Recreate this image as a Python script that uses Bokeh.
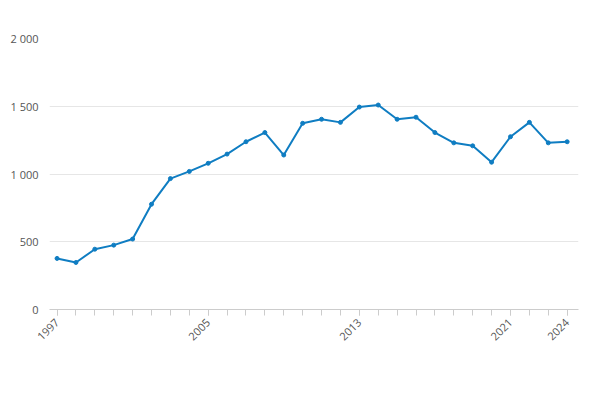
from bokeh.plotting import figure
from bokeh.embed import file_html
from bokeh.resources import INLINE
from bokeh.models import FixedTicker, Legend, LegendItem, Label, CustomJSTickFormatter
import math

years = list(range(1997, 2025))
values = [377, 347, 445, 475, 520, 777, 966, 1019, 1079, 1147, 1238, 1306, 1140, 1374,
          1404, 1381, 1494, 1509, 1404, 1419, 1306, 1230, 1208, 1087, 1275, 1381, 1230, 1238]
x_ticks = [1997, 2005, 2013, 2021, 2024]
y_ticks = [0, 500, 1000, 1500, 2000]
title = "Environmental taxes: pollution/resources taxes (£million)"
color = "#0f7dc2"

p = figure(width=584, height=384, output_backend="svg", toolbar_location=None,
           x_range=(1996.6, 2024.6), y_range=(0, 2000),
           min_border_left=49, min_border_right=6, min_border_top=38, min_border_bottom=75)
p.outline_line_color = None

r = p.line(years, values, line_color=color, line_width=2)
c = p.scatter(years, values, size=4, color=color)

p.xaxis.ticker = FixedTicker(ticks=x_ticks, minor_ticks=years)
p.xaxis.major_label_orientation = math.pi / 4
p.yaxis.ticker = FixedTicker(ticks=y_ticks)
p.yaxis.formatter = CustomJSTickFormatter(code="return tick.toString().replace(/\\B(?=(\\d{3})+(?!\\d))/g, ' ');")
for ax in (p.xaxis, p.yaxis):
    ax.major_label_text_font = "Open Sans"
    ax.major_label_text_font_size = "11px"
    ax.major_label_text_color = "#555555"
p.yaxis.axis_line_color = None
p.yaxis.major_tick_line_color = None
p.yaxis.minor_tick_line_color = None
p.xaxis.axis_line_color = "#cccccc"
p.xaxis.major_tick_line_color = "#cccccc"
p.xaxis.minor_tick_line_color = "#cccccc"
p.xaxis.major_tick_out = 6
p.xaxis.minor_tick_out = 6
p.xaxis.major_tick_in = 0
p.xaxis.minor_tick_in = 0
p.xgrid.grid_line_color = None
p.ygrid.grid_line_color = "#e6e6e6"

legend = Legend(items=[LegendItem(label=title, renderers=[r, c])], location=(26, -75),
                label_text_font="Open Sans", label_text_font_size="13px",
                label_text_font_style="bold", label_text_color="#333333",
                border_line_color=None, background_fill_alpha=0, glyph_width=20, margin=0, padding=4)
p.add_layout(legend, "center")
p.add_layout(Label(x=-9, y=271, x_units="screen", y_units="screen", text=title,
                   text_font="Open Sans", text_font_size="17px", text_color="#333333"), "center")
p.add_layout(Label(x=484, y=-83, x_units="screen", y_units="screen", text="Source:",
                   text_font="Open Sans", text_font_size="13px", text_color="#555555"), "center")

open("out.html", "w").write(file_html(p, INLINE))
